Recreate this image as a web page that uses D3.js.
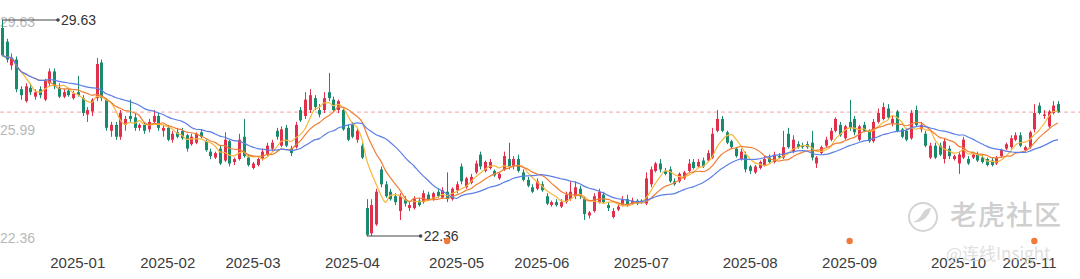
<!DOCTYPE html>
<meta charset="utf-8">
<script src="https://d3js.org/d3.v7.min.js"></script>
<style>
  body { margin: 0; background: #fff; }
  svg { display: block; font-family: "Liberation Sans", Arial, sans-serif; }
</style>
<body></body>
<script>
  // daily candles [open, high, low, close]
  let candles = [
    [29.36,29.63,28.40,28.45],[28.90,29.00,28.20,28.30],[28.10,28.50,27.95,28.35],[28.30,28.40,27.20,27.30],
    [27.30,27.40,26.95,27.10],[26.90,27.50,26.85,27.40],[27.35,27.50,27.10,27.20],[27.05,27.30,26.95,27.20],
    [27.30,27.40,27.00,27.10],[26.95,27.65,26.90,27.60],[27.50,28.00,27.40,27.90],[27.90,28.00,27.30,27.40],
    [27.35,27.50,27.00,27.05],[27.05,27.30,27.00,27.20],[27.25,27.35,27.05,27.10],[27.00,27.25,26.95,27.15],
    [27.20,27.75,27.05,27.10],[27.00,27.10,26.40,26.50],[26.45,26.70,26.20,26.60],[26.55,27.00,26.40,26.95],
    [27.00,28.35,26.90,28.15],[28.20,28.30,26.90,27.00],[26.95,27.00,25.90,26.00],[25.90,26.20,25.70,26.10],
    [26.10,26.20,25.60,25.70],[25.70,26.60,25.60,26.50],[26.10,26.40,25.90,26.30],[26.40,26.95,26.20,26.30],
    [26.35,26.50,25.90,26.00],[26.00,26.15,25.90,26.10],[26.10,26.20,25.80,25.90],[25.95,26.30,25.85,26.20],
    [26.20,26.60,26.10,26.40],[26.40,26.50,25.90,26.00],[25.90,26.10,25.70,26.00],[26.00,26.10,25.55,25.60],
    [25.60,25.90,25.50,25.80],[25.85,26.00,25.65,25.70],[25.90,26.00,25.60,25.65],[25.75,25.80,25.20,25.30],
    [25.45,25.80,25.40,25.70],[25.50,25.85,25.45,25.80],[25.85,25.95,25.65,25.70],[25.55,25.60,25.20,25.25],
    [25.20,25.30,24.95,25.05],[25.00,25.20,24.95,25.15],[25.30,25.40,24.75,24.80],[24.90,25.85,24.85,25.60],
    [25.55,25.60,24.70,24.80],[24.85,25.00,24.75,24.95],[24.95,25.80,24.90,25.60],[25.70,26.30,25.00,25.05],
    [25.00,25.10,24.70,24.75],[24.65,24.85,24.60,24.80],[24.75,25.00,24.70,24.95],[24.95,25.30,24.90,25.20],
    [25.10,25.50,25.05,25.40],[25.30,25.60,25.20,25.50],[25.90,26.00,25.60,25.70],[25.40,26.05,25.35,25.95],
    [26.00,26.10,25.35,25.40],[25.30,25.40,25.05,25.15],[25.35,26.20,25.30,26.10],[26.60,26.70,26.20,26.25],
    [26.40,27.20,26.30,26.95],[26.60,27.30,26.50,27.10],[27.00,27.10,26.60,26.70],[26.60,26.80,26.35,26.45],
    [26.60,27.20,26.50,27.00],[27.20,27.85,26.90,27.00],[26.95,27.05,26.55,26.60],[26.60,26.95,26.50,26.90],
    [26.60,26.70,25.90,25.95],[26.00,26.10,25.55,25.60],[26.10,26.20,25.65,25.70],[25.60,26.00,25.50,25.90],
    [25.40,25.50,24.95,25.00],[23.30,23.60,22.36,22.40],[22.45,23.60,22.36,23.40],[22.75,23.95,22.70,23.85],
    [24.60,24.70,24.00,24.10],[24.10,24.20,23.65,23.70],[23.85,23.95,23.55,23.60],[23.70,23.80,23.40,23.50],
    [23.20,23.80,22.90,23.70],[23.60,23.70,23.35,23.45],[23.30,23.50,23.20,23.40],[23.30,23.70,23.25,23.60],
    [23.55,23.65,23.35,23.40],[23.50,23.90,23.45,23.80],[23.75,23.85,23.55,23.60],[23.60,23.85,23.55,23.80],
    [23.85,23.95,23.65,23.70],[23.65,24.00,23.60,23.90],[23.85,24.50,23.50,23.60],[23.60,24.00,23.55,23.95],
    [23.90,24.20,23.80,24.10],[24.70,24.80,24.10,24.20],[24.00,24.35,23.95,24.30],[24.15,24.45,24.10,24.35],
    [24.50,24.90,24.45,24.80],[25.10,25.20,24.60,24.70],[24.55,24.90,24.50,24.85],[24.65,24.95,24.60,24.85],
    [24.55,24.60,24.35,24.40],[24.30,24.50,24.25,24.45],[24.60,25.20,24.55,25.05],[24.95,25.50,24.60,24.70],
    [24.70,25.05,24.60,24.95],[24.95,25.10,24.50,24.55],[24.50,24.60,24.20,24.25],[24.25,24.35,24.00,24.05],
    [24.00,24.10,23.80,23.85],[23.95,24.30,23.90,24.20],[24.10,24.20,23.85,23.90],[23.70,23.80,23.40,23.45],
    [23.40,23.55,23.35,23.50],[23.50,23.60,23.35,23.40],[23.35,23.60,23.30,23.50],[23.50,23.85,23.45,23.75],
    [23.60,24.20,23.55,23.85],[23.70,24.20,23.60,24.00],[23.95,24.05,23.60,23.70],[23.60,23.70,22.90,23.10],
    [23.05,23.20,22.95,23.15],[23.20,23.80,23.15,23.70],[23.50,23.95,23.45,23.85],[23.75,23.85,23.45,23.50],
    [23.40,23.50,23.20,23.30],[23.00,23.30,22.95,23.20],[23.25,23.45,23.20,23.35],[23.40,23.70,23.35,23.60],
    [23.60,23.75,23.35,23.40],[23.45,23.65,23.40,23.55],[23.55,23.60,23.40,23.45],[23.55,23.60,23.45,23.50],
    [23.45,24.50,23.40,24.30],[24.10,24.70,24.00,24.60],[24.55,24.85,24.50,24.80],[24.80,24.95,24.50,24.60],
    [24.55,24.65,24.40,24.45],[24.60,24.70,24.15,24.20],[24.20,24.30,24.05,24.10],[24.20,24.50,24.15,24.45],
    [24.30,24.55,24.25,24.50],[24.55,24.95,24.50,24.80],[24.85,24.95,24.60,24.65],[24.70,24.95,24.65,24.85],
    [24.90,25.00,24.65,24.70],[24.90,25.25,24.85,25.15],[25.00,26.00,24.95,25.80],[25.90,26.60,25.85,26.30],
    [26.30,26.40,25.85,25.90],[25.85,25.90,25.45,25.50],[25.55,25.60,25.30,25.35],[25.30,25.35,25.00,25.05],
    [24.95,25.30,24.90,25.20],[25.10,25.20,24.50,24.60],[24.70,24.75,24.45,24.55],[24.50,24.75,24.45,24.70],
    [24.65,24.90,24.60,24.85],[24.75,25.05,24.70,24.95],[25.00,25.10,24.80,24.85],[24.85,25.20,24.80,25.10],
    [25.05,25.15,24.95,25.00],[25.00,25.90,24.95,25.35],[25.80,26.00,25.30,25.35],[25.20,25.75,25.15,25.60],
    [25.45,25.55,25.30,25.35],[25.40,25.50,25.30,25.35],[25.45,25.55,25.30,25.35],[25.50,25.90,24.90,25.00],
    [24.80,25.05,24.65,25.00],[25.15,25.40,25.10,25.35],[25.40,25.70,25.35,25.60],[25.60,26.00,25.55,25.90],
    [25.90,26.35,25.85,26.30],[26.10,26.20,25.70,25.75],[25.65,26.10,25.60,26.05],[26.20,26.94,25.90,26.00],
    [26.30,26.40,25.75,25.85],[25.60,26.10,25.55,26.05],[26.10,26.20,25.85,25.90],[25.90,25.95,25.50,25.55],
    [25.55,26.30,25.50,26.20],[26.20,26.65,26.15,26.50],[26.30,26.85,26.25,26.70],[26.65,26.80,26.30,26.35],
    [26.15,26.40,26.05,26.30],[26.55,26.60,25.85,25.90],[25.95,26.00,25.65,25.70],[25.90,26.00,25.55,25.60],
    [25.65,26.60,25.60,26.50],[26.60,26.75,26.05,26.10],[25.95,26.20,25.85,26.10],[25.80,25.90,25.35,25.40],
    [25.00,25.50,24.95,25.40],[25.40,25.50,24.95,25.00],[25.40,25.50,25.05,25.10],[24.95,25.65,24.80,25.55],
    [25.30,25.40,24.95,25.05],[24.95,25.10,24.90,25.05],[24.80,25.20,24.45,25.10],[25.00,25.70,24.95,25.60],
    [24.95,25.05,24.75,24.80],[25.00,25.20,24.95,25.10],[25.10,25.20,24.85,24.90],[25.00,25.10,24.80,24.85],
    [24.95,25.00,24.70,24.75],[24.90,25.00,24.70,24.75],[24.80,25.05,24.75,25.00],[25.05,25.30,25.00,25.25],
    [25.30,25.50,25.25,25.45],[25.35,25.75,25.30,25.65],[25.60,25.85,25.55,25.75],[25.75,25.85,25.35,25.40],
    [25.25,25.40,25.20,25.35],[25.35,25.90,25.30,25.85],[25.95,26.80,25.85,26.50],[26.75,26.85,26.45,26.50],
    [26.40,26.60,26.30,26.45],[26.05,26.60,26.00,26.55],[26.50,26.90,26.45,26.75],[26.80,26.90,26.50,26.53]
  ];

  let tickLabels = ["2025-01","2025-02","2025-03","2025-04","2025-05","2025-06","2025-07","2025-08","2025-09","2025-10","2025-11"];
  let tickIndex = [16, 35, 53, 74, 96, 114, 135, 158, 179, 202, 217];
  let yLabels = [29.63, 25.99, 22.36];
  let eventIndex = [94, 179, 218];
  let maPeriods = [5, 10, 20];
  let maColors = ["#f6b73c", "#f07f36", "#5c7fe6"];

  let width = 1080, height = 279;
  let up = "#e0304c", down = "#188a6e";

  let svg = d3.select("body").append("svg")
    .attr("width", width)
    .attr("height", height);

  let xScale = d3.scaleLinear()
    .domain([0, candles.length - 1])
    .range([2, 1058]);

  let yScale = d3.scaleLinear()
    .domain([22.36, 29.63])
    .range([236, 20]);

  // y labels
  svg.selectAll('.ylab')
    .data(yLabels).enter().append('text')
    .attr('class', 'ylab')
    .attr('x', 0)
    .attr('y', d => yScale(d) + 2)
    .attr('dy', '0.35em')
    .attr('fill', '#b8b8b8')
    .attr('font-size', 14)
    .text(d => d.toFixed(2));

  // last price dashed line
  let last = candles[candles.length - 1][3];
  svg.append('line')
    .attr('x1', 0).attr('x2', width)
    .attr('y1', yScale(last)).attr('y2', yScale(last))
    .attr('stroke', '#f2a5a5')
    .attr('stroke-width', 1)
    .attr('stroke-dasharray', '4,3');

  // watermark (under the marks)
  let wm = svg.append('g');
  wm.append('circle')
    .attr('cx', 923).attr('cy', 217).attr('r', 14)
    .attr('fill', 'none').attr('stroke', '#d4d4d4').attr('stroke-width', 2);
  wm.append('path')
    .attr('d', 'M913,222 q6,-2 9,-8 q3,-6 9,-6 q-2,8 -8,12 q-5,3 -10,2 z')
    .attr('fill', '#d4d4d4');
  wm.append('text')
    .attr('x', 950).attr('y', 216)
    .attr('dy', '0.35em')
    .attr('fill', '#cfcfcf')
    .attr('font-family', '"Noto Sans CJK SC", sans-serif')
    .attr('font-size', 27)
    .attr('font-weight', 500)
    .attr('letter-spacing', 1)
    .text('老虎社区');

  // candles
  let g = svg.selectAll('.candle')
    .data(candles).enter().append('g')
    .attr('class', 'candle')
    .attr('fill', d => d[3] >= d[0] ? up : down)
    .attr('stroke', d => d[3] >= d[0] ? up : down);

  g.append('line')
    .attr('x1', (d, i) => Math.round(xScale(i)) + 0.5)
    .attr('x2', (d, i) => Math.round(xScale(i)) + 0.5)
    .attr('y1', d => yScale(d[1]))
    .attr('y2', d => yScale(d[2]))
    .attr('stroke-width', 1);

  g.append('rect')
    .attr('x', (d, i) => Math.round(xScale(i)) - 1)
    .attr('width', 3)
    .attr('y', d => yScale(Math.max(d[0], d[3])))
    .attr('height', d => Math.max(1, Math.abs(yScale(d[0]) - yScale(d[3]))))
    .attr('stroke', 'none');

  // moving averages
  let closes = candles.map(d => d[3]);
  maPeriods.forEach((p, k) => {
    let ma = closes.map((c, i) => d3.mean(closes.slice(Math.max(0, i - p + 1), i + 1)));
    svg.append('path')
      .datum(ma)
      .attr('fill', 'none')
      .attr('stroke', maColors[k])
      .attr('stroke-width', 1.2)
      .attr('d', d3.line().x((d, i) => xScale(i)).y(d => yScale(d)).curve(d3.curveMonotoneX));
  });

  // max / min markers
  let hiIdx = d3.maxIndex(candles, d => d[1]);
  let loIdx = d3.minIndex(candles, d => d[2]);
  [[hiIdx, candles[hiIdx][1], 56], [loIdx, candles[loIdx][2], 54]].forEach(m => {
    let x0 = xScale(m[0]), y0 = yScale(m[1]);
    svg.append('line')
      .attr('x1', x0).attr('x2', x0 + m[2])
      .attr('y1', y0).attr('y2', y0)
      .attr('stroke', '#444').attr('stroke-width', 1);
    svg.append('circle')
      .attr('cx', x0 + m[2]).attr('cy', y0).attr('r', 1.8)
      .attr('fill', '#444');
    svg.append('text')
      .attr('x', x0 + m[2] + 3).attr('y', y0)
      .attr('dy', '0.35em')
      .attr('fill', '#333')
      .attr('font-size', 14)
      .text(m[1].toFixed(2));
  });

  // x labels
  svg.selectAll('.xlab')
    .data(tickLabels).enter().append('text')
    .attr('class', 'xlab')
    .attr('x', (d, i) => xScale(tickIndex[i]))
    .attr('y', 263)
    .attr('dy', '0.35em')
    .attr('text-anchor', 'middle')
    .attr('fill', '#3c3c3c')
    .attr('font-size', 15)
    .text(d => d);

  // event dots
  svg.selectAll('.evt')
    .data(eventIndex).enter().append('circle')
    .attr('cx', d => xScale(d))
    .attr('cy', 241)
    .attr('r', 3.2)
    .attr('fill', '#f07a3a');

  // second watermark line, semi-transparent over the axis labels
  svg.append('text')
    .attr('x', 946).attr('y', 254)
    .attr('dy', '0.35em')
    .attr('fill', '#d8d8d8')
    .attr('opacity', 0.8)
    .attr('font-family', '"Noto Sans CJK SC", sans-serif')
    .attr('font-size', 17)
    .text('@连线Insight');
</script>
